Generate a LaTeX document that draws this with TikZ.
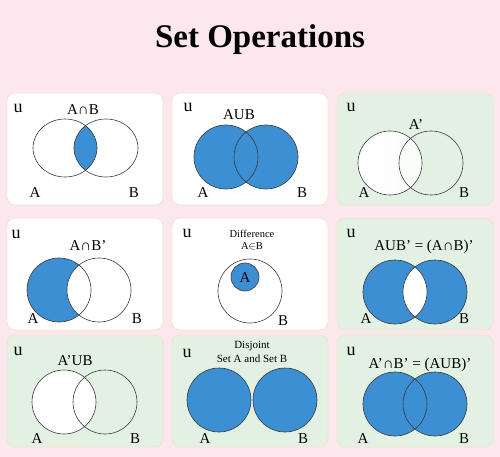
\documentclass[tikz,border=0pt]{standalone}
\usepackage{fontspec}
\setmainfont{Liberation Serif}
\definecolor{bgpink}{HTML}{FCE7EE}
\definecolor{cardgreen}{HTML}{E3F1E2}
\definecolor{cardedge}{HTML}{EEE6CC}
\definecolor{setblue}{HTML}{3B8FD2}
\definecolor{circedge}{HTML}{3A3A3A}
\begin{document}
\begin{tikzpicture}[x=1pt,y=-1pt,
  card/.style={rounded corners=8pt, draw=cardedge, line width=0.8pt},
  whitecard/.style={card, fill=white},
  greencard/.style={card, fill=cardgreen},
  venn/.style={draw=circedge, line width=0.6pt},
  lbl/.style={anchor=base, inner sep=0pt, font=\fontsize{15}{15}\selectfont},
  ulbl/.style={anchor=base, inner sep=0pt, font=\fontsize{18}{18}\selectfont},
  small/.style={anchor=base, inner sep=0pt, font=\fontsize{11}{11}\selectfont}]
\fill[bgpink] (0,0) rectangle (500,457);
\useasboundingbox (0,0) rectangle (500,457);
\node[anchor=base, inner sep=0pt, font=\bfseries\fontsize{33}{33}\selectfont] (title) at (260,48) {Set Operations};

% ---------- cards ----------
\draw[whitecard] (7,93) rectangle (163,205);
\draw[whitecard] (172,93) rectangle (328,205);
\draw[greencard] (337,93) rectangle (493,205);
\draw[whitecard] (7,218) rectangle (163,330);
\draw[whitecard] (172,218) rectangle (328,330);
\draw[greencard] (337,218) rectangle (493,330);
\draw[greencard] (7,335) rectangle (163,447);
\draw[greencard] (172,335) rectangle (328,447);
\draw[greencard] (337,335) rectangle (493,447);

% ---------- 1: A intersect B ----------
\begin{scope}
  \clip (65,148) ellipse [x radius=32pt, y radius=29pt];
  \fill[setblue] (106,148) ellipse [x radius=32pt, y radius=29pt];
\end{scope}
\draw[venn] (65,148) ellipse [x radius=32pt, y radius=29pt];
\draw[venn] (106,148) ellipse [x radius=32pt, y radius=29pt];
\node[ulbl] (u1) at (18,113) {u};
\node[lbl] (t1) at (83,115) {A∩B};
\node[lbl] (a1) at (35,197) {A};
\node[lbl] (b1) at (134,197) {B};

% ---------- 2: A union B ----------
\fill[setblue] (226,157) circle [radius=32pt];
\fill[setblue] (266,157) circle [radius=32pt];
\draw[venn] (226,157) circle [radius=32pt];
\draw[venn] (266,157) circle [radius=32pt];
\node[ulbl] (u2) at (188,112) {u};
\node[lbl] (t2) at (239,120) {AUB};
\node[lbl] (a2) at (203,197) {A};
\node[lbl] (b2) at (302,197) {B};

% ---------- 3: A' ----------
\shade[left color=white, right color=white!80!cardgreen] (390,163) circle [radius=32pt];
\draw[venn] (390,163) circle [radius=32pt];
\draw[venn] (431,163) circle [radius=32pt];
\node[ulbl] (u3) at (351,112) {u};
\node[lbl] (t3) at (416,130) {A’};
\node[lbl] (a3) at (364,197) {A};
\node[lbl] (b3) at (464,197) {B};

% ---------- 4: A intersect B' ----------
\fill[setblue] (59,290) circle [radius=32pt];
\begin{scope}
  \clip (59,290) circle [radius=32pt];
  \fill[white] (99,290) circle [radius=32pt];
\end{scope}
\draw[venn] (59,290) circle [radius=32pt];
\draw[venn] (99,290) circle [radius=32pt];
\node[ulbl] (u4) at (16,238) {u};
\node[lbl] (t4) at (88,250) {A∩B’};
\node[lbl] (a4) at (33,323) {A};
\node[lbl] (b4) at (137,323) {B};

% ---------- 5: Difference ----------
\draw[venn] (250,291) circle [radius=32pt];
\fill[setblue] (245,277) circle [radius=14pt];
\draw[venn] (245,277) circle [radius=14pt];
\node[ulbl] (u5) at (187,237) {u};
\node[anchor=base, inner sep=0pt, font=\fontsize{10.5}{10.5}\selectfont] (t5a) at (252,237) {Difference};
\node[anchor=base, inner sep=0pt, font=\fontsize{10.5}{10.5}\selectfont] (t5b) at (252,249) {A$\in$B};
\node[lbl, anchor=center] (a5) at (245,278) {A};
\node[lbl] (b5) at (283,325) {B};

% ---------- 6: AUB' = (A intersect B)' ----------
\fill[setblue] (395,292) circle [radius=32pt];
\fill[setblue] (435,292) circle [radius=32pt];
\begin{scope}
  \clip (395,292) circle [radius=32pt];
  \fill[white] (435,292) circle [radius=32pt];
\end{scope}
\draw[venn] (395,292) circle [radius=32pt];
\draw[venn] (435,292) circle [radius=32pt];
\node[ulbl] (u6) at (351,237) {u};
\node[lbl] (t6) at (424,250) {AUB’ = (A∩B)’};
\node[lbl] (a6) at (366,323) {A};
\node[lbl] (b6) at (464,323) {B};

% ---------- 7: A'UB ----------
\fill[white] (64,402) circle [radius=32pt];
\draw[venn] (64,402) circle [radius=32pt];
\draw[venn] (105,402) circle [radius=32pt];
\node[ulbl] (u7) at (18,355) {u};
\node[lbl] (t7) at (75,365) {A’UB};
\node[lbl] (a7) at (37,443) {A};
\node[lbl] (b7) at (135,443) {B};

% ---------- 8: Disjoint ----------
\fill[setblue] (219,400) circle [radius=32pt];
\fill[setblue] (285,400) circle [radius=32pt];
\draw[venn] (219,400) circle [radius=32pt];
\draw[venn] (285,400) circle [radius=32pt];
\node[ulbl] (u8) at (187,357) {u};
\node[small] (t8a) at (252,348) {Disjoint};
\node[small] (t8b) at (252,362) {Set A and Set B};
\node[lbl] (a8) at (205,443) {A};
\node[lbl] (b8) at (303,443) {B};

% ---------- 9: A'nB' = (AUB)' ----------
\fill[setblue] (395,404) circle [radius=32pt];
\fill[setblue] (435,404) circle [radius=32pt];
\draw[venn] (395,404) circle [radius=32pt];
\draw[venn] (435,404) circle [radius=32pt];
\node[ulbl] (u9) at (351,355) {u};
\node[lbl] (t9) at (420,368) {A’∩B’ = (AUB)’};
\node[lbl] (a9) at (363,443) {A};
\node[lbl] (b9) at (464,443) {B};
\end{tikzpicture}
\end{document}
